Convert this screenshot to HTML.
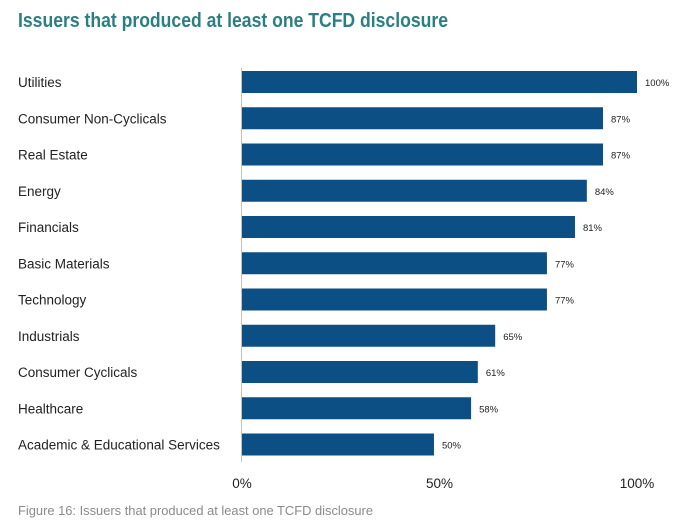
<!DOCTYPE html>
<html><head><meta charset="utf-8"><style>
body{margin:0;background:#fff;}
svg{display:block;font-family:"Liberation Sans",sans-serif;}
</style></head><body>
<svg id="chart" width="682" height="531">
<text x="18" y="27" font-size="20" font-weight="bold" fill="#2b7f82" textLength="430" lengthAdjust="spacingAndGlyphs">Issuers that produced at least one TCFD disclosure</text>
<line x1="241.5" y1="68" x2="241.5" y2="462" stroke="#c9c1b5" stroke-width="1"/>
<g id="bars"></g>
<g id="ticks"></g>
<text x="18" y="515" font-size="13" fill="#8a8a8a" textLength="355" lengthAdjust="spacingAndGlyphs">Figure 16: Issuers that produced at least one TCFD disclosure</text>
</svg>
<script>
const categories=["Utilities","Consumer Non-Cyclicals","Real Estate","Energy","Financials","Basic Materials","Technology","Industrials","Consumer Cyclicals","Healthcare","Academic & Educational Services"];
const values=[100,91.4,91.4,87.3,84.3,77.2,77.2,64.1,59.7,58,48.6];
const valueLabels=["100%","87%","87%","84%","81%","77%","77%","65%","61%","58%","50%"];
const tickValues=[0,50,100];
const tickLabels=["0%","50%","100%"];
const NS="http://www.w3.org/2000/svg";
const x0=242,x1=637,y0=71,step=36.25,bh=22;
function xs(v){return x0+(x1-x0)*v/100;}
function ys(i){return y0+i*step;}
const gb=document.getElementById('bars');
categories.forEach((c,i)=>{
  const t=document.createElementNS(NS,'text');
  t.setAttribute('x',18);t.setAttribute('y',ys(i)+bh/2+5);
  t.setAttribute('font-size','13.5');t.setAttribute('fill','#222');
  t.textContent=c;
  
  
  gb.appendChild(t);
  const r=document.createElementNS(NS,'rect');
  r.setAttribute('x',x0);r.setAttribute('y',ys(i));
  r.setAttribute('width',xs(values[i])-x0);r.setAttribute('height',bh);
  r.setAttribute('fill','#0b4f85');
  
  
  gb.appendChild(r);
  const v=document.createElementNS(NS,'text');
  v.setAttribute('x',xs(values[i])+8);v.setAttribute('y',ys(i)+bh/2+4);
  v.setAttribute('font-size','9.5');v.setAttribute('fill','#222');
  v.textContent=valueLabels[i];
  
  
  gb.appendChild(v);
});
const gt=document.getElementById('ticks');
tickValues.forEach((tv,i)=>{
  const t=document.createElementNS(NS,'text');
  t.setAttribute('x',xs(tv));t.setAttribute('y',488);
  t.setAttribute('font-size','13.5');t.setAttribute('fill','#222');
  t.setAttribute('text-anchor','middle');
  t.textContent=tickLabels[i];
  
  
  gt.appendChild(t);
});
</script>
</body></html>
